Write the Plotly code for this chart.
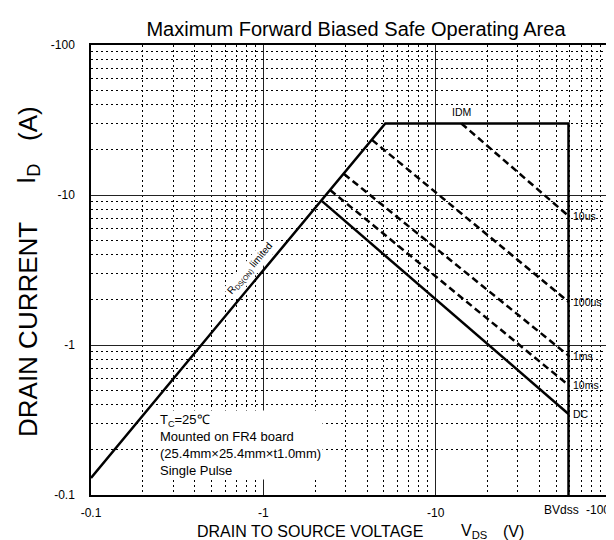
import math
import plotly.graph_objects as go

# ---- data ----
soa_v = [0.1, 5.1, 59.0, 59.0]          # RDS(on) limit -> IDM -> BVdss
soa_i = [0.13, 30.0, 30.0, 0.1]

dc_v = [2.19, 59.0]
dc_i = [9.1, 0.347]

us10_v = [14.1, 59.0]
us10_i = [30.0, 7.25]

us100_v = [4.27, 59.0]
us100_i = [23.3, 1.94]

ms1_v = [2.94, 59.0]
ms1_i = [13.8, 0.85]

ms10_v = [2.44, 59.0]
ms10_i = [10.8, 0.54]

curve_labels = ["10us", "100us", "1ms", "10ms", "DC"]
label_i = [us10_i[-1], us100_i[-1], ms1_i[-1], ms10_i[-1], dc_i[-1]]

bv_dss = 59.0
idm = 30.0

tick_vals = [0.1, 1, 10, 100]
tick_text = ["-0.1", "-1", "-10", ""]

FONT = "Arial, Liberation Sans, sans-serif"
L = math.log10

fig = go.Figure()

solid = dict(color="black", width=2.5)
dashed = dict(color="black", width=2.5, dash="7px,4px")

fig.add_trace(go.Scatter(x=soa_v, y=soa_i, mode="lines", line=solid, hoverinfo="skip"))
fig.add_trace(go.Scatter(x=dc_v, y=dc_i, mode="lines", line=solid, hoverinfo="skip"))
for xv, yv in [(us10_v, us10_i), (us100_v, us100_i), (ms1_v, ms1_i), (ms10_v, ms10_i)]:
    fig.add_trace(go.Scatter(x=xv, y=yv, mode="lines", line=dashed, hoverinfo="skip"))

tick_font = dict(family=FONT, size=12, color="black")

axis_common = dict(
    type="log",
    range=[-1, 2],
    tickmode="array",
    tickvals=tick_vals,
    showgrid=True,
    gridcolor="#222222",
    gridwidth=1.3,
    showline=True,
    linecolor="black",
    linewidth=1.5,
    mirror=True,
    ticks="",
    tickfont=tick_font,
    zeroline=False,
    minor=dict(dtick="D1", showgrid=True, gridcolor="black",
               griddash="2px,3px", gridwidth=1, ticks=""),
)

fig.update_xaxes(**axis_common, ticktext=tick_text, ticklabelstandoff=6)
fig.update_yaxes(**axis_common, ticktext=["-0.1", "-1", "-10", "-100"], ticklabelstandoff=12)

ann = []
lab_font = dict(family=FONT, size=10.5, color="black")
for txt, yv in zip(curve_labels, label_i):
    ann.append(dict(x=L(bv_dss), y=L(yv), xref="x", yref="y", text=txt, showarrow=False,
                    xanchor="left", yanchor="middle", xshift=2, font=lab_font))
ann.append(dict(x=L(us10_v[0]), y=L(idm), xref="x", yref="y", text="IDM", showarrow=False,
                xanchor="center", yanchor="bottom", yshift=3, font=lab_font))
ann.append(dict(x=L(bv_dss), y=0, xref="x", yref="paper", text="BVdss", showarrow=False,
                xanchor="center", yanchor="top", yshift=-6, xshift=-7, font=tick_font))
ann.append(dict(x=1, y=0, xref="paper", yref="paper", text="-100", showarrow=False,
                xanchor="right", yanchor="top", yshift=-6, xshift=4, font=tick_font))
# RDS(on) limited
ann.append(dict(x=-0.075, y=0.513, xref="x", yref="y",
                text="R<sub>DS(ON)</sub> limited", showarrow=False, textangle=-50,
                bgcolor="white", font=dict(family=FONT, size=10, color="black")))
# conditions box
ann.append(dict(x=-0.61, y=-0.43, xref="x", yref="y", xanchor="left", yanchor="top",
                align="left", showarrow=False, bgcolor="white",
                text="T<sub>C</sub>=25℃<br>Mounted on FR4 board<br>(25.4mm×25.4mm×t1.0mm)<br>Single Pulse",
                font=dict(family=FONT, size=13, color="black")))
# y axis title (pieces)
yt_font = dict(family=FONT, size=26, color="black")
for txt, py in [("DRAIN CURRENT", (487 - 322) / 450), ("I<sub>D</sub>", (487 - 166) / 450),
                ("(A)", (487 - 116) / 450)]:
    ann.append(dict(x=0, y=py, xref="paper", yref="paper", xshift=-63, textangle=-90,
                    text=txt, showarrow=False, xanchor="center", yanchor="middle",
                    font=yt_font))
# x axis title (pieces)
xt_font = dict(family=FONT, size=16, color="black")
for txt, px in [("DRAIN TO SOURCE VOLTAGE", 0.2004), ("V<sub>DS</sub>", 0.711), ("(V)", 0.794)]:
    ann.append(dict(x=px, y=-0.082, xref="paper", yref="paper", text=txt, showarrow=False,
                    xanchor="left", yanchor="middle", font=xt_font))

fig.update_layout(
    width=614, height=540,
    margin=dict(l=83, r=12, t=37, b=53),
    paper_bgcolor="white", plot_bgcolor="white",
    showlegend=False,
    title=dict(text="Maximum Forward Biased Safe Operating Area", x=348 / 614, xref="container",
               xanchor="center", y=1 - 21 / 540, yanchor="middle",
               font=dict(family=FONT, size=20, color="black")),
    annotations=ann,
)

fig.write_html("out.html")
